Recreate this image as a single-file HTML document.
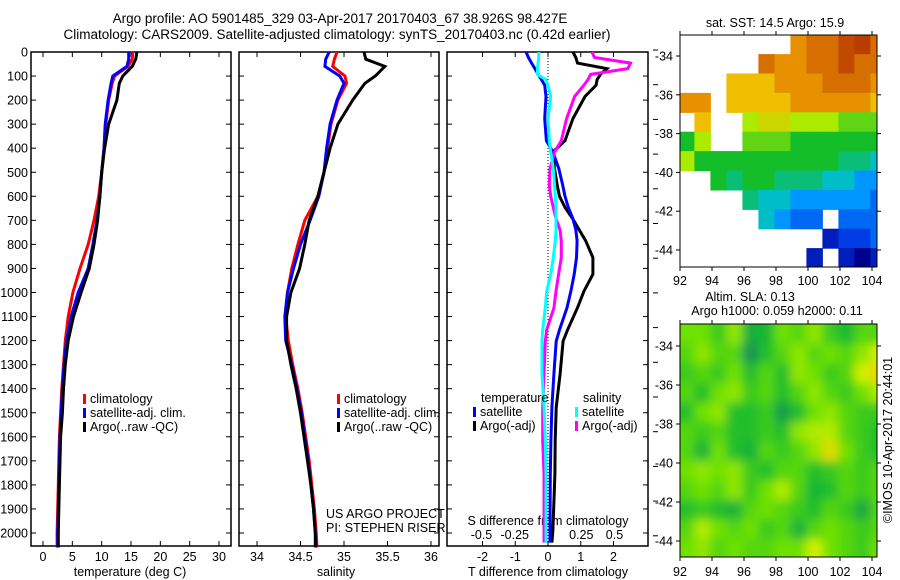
<!DOCTYPE html>
<html><head><meta charset="utf-8"><style>
html,body{margin:0;padding:0;background:#fff;}
svg{display:block;font-family:"Liberation Sans",sans-serif;}
text{fill:#000;}
</style></head><body>
<svg id="fig" width="900" height="580" viewBox="0 0 900 580" xmlns="http://www.w3.org/2000/svg">
<defs>
<clipPath id="clipSla"><rect x="680" y="324" width="197" height="233"/></clipPath>
<clipPath id="clipSst"><rect x="680" y="35" width="197" height="232"/></clipPath>
<filter id="blur" x="-5%" y="-5%" width="110%" height="110%"><feGaussianBlur stdDeviation="5"/></filter>
</defs>
<text x="340" y="23" text-anchor="middle" font-size="13.5">Argo profile: AO 5901485_329 03-Apr-2017 20170403_67 38.926S 98.427E</text>
<text x="337" y="39" text-anchor="middle" font-size="13.5">Climatology: CARS2009. Satellite-adjusted climatology: synTS_20170403.nc (0.42d earlier)</text>
<g id="layer"></g>
</svg>
<script>
// ---------- Data ----------
const depths = [0,30,60,100,130,200,300,400,500,600,700,800,900,1000,1100,1200,1300,1400,1500,1600,1700,1800,1900,2000,2060];
const tempClim = [15.3,15.2,14.5,12.2,11.8,11.2,10.7,10.4,10,9.5,8.7,7.7,6.3,5.1,4.3,3.8,3.5,3.2,3.0,2.8,2.7,2.6,2.5,2.4,2.4];
const tempSat  = [14.6,14.6,14.3,11.9,11.6,11.1,10.6,10.4,10,9.7,9.2,8.5,7.7,6.0,4.8,4.0,3.6,3.3,3.1,2.9,2.8,2.7,2.6,2.5,2.5];
const tempArgo = [16.0,15.8,15.2,13.6,13.0,12.6,11.2,10.5,10,9.7,9.3,8.7,7.9,6.5,5.2,4.3,3.8,3.5,3.3,3.0,2.9,2.8,2.7,2.6,2.6];
const salClim = [34.92,34.89,34.87,35.01,35.03,34.93,34.85,34.81,34.77,34.70,34.55,34.47,34.40,34.35,34.33,34.36,34.41,34.47,34.52,34.56,34.60,34.63,34.66,34.68,34.69];
const salSat  = [34.83,34.79,34.78,34.95,35.00,34.92,34.84,34.80,34.77,34.71,34.61,34.50,34.42,34.35,34.32,34.33,34.40,34.46,34.51,34.55,34.59,34.62,34.65,34.67,34.68];
const salArgo = [35.23,35.25,35.47,35.36,35.24,35.10,34.93,34.84,34.77,34.70,34.60,34.55,34.49,34.39,34.34,34.34,34.39,34.45,34.50,34.54,34.58,34.62,34.65,34.67,34.67];
const diffDepths = [0,23,46,69,93,115,138,185,277,369,416,485,554,600,646,693,739,785,855,924,994,1063,1155,1202,1339,1478,1616,1755,1987,2040];
const dTempSat  = [-0.67,-0.6,-0.5,-0.4,-0.3,-0.2,-0.1,-0.06,-0.1,-0.05,0.15,0.33,0.45,0.52,0.62,0.76,0.85,0.89,0.87,0.8,0.7,0.58,0.35,0.25,0.18,0.12,0.09,0.07,0.06,0.06];
const dTempArgo = [0.76,0.85,0.9,1.8,1.6,1.5,1.47,1.13,0.76,0.52,0.15,0.2,0.28,0.35,0.52,0.75,0.95,1.15,1.37,1.37,1.1,0.9,0.6,0.46,0.37,0.25,0.22,0.21,0.15,0.12];
const dSalSat   = [-0.07,-0.07,-0.075,-0.08,-0.08,-0.015,0.0,0.02,0.0,0.01,0.02,0.04,0.05,0.055,0.06,0.06,0.06,0.055,0.04,0.02,-0.01,-0.02,-0.04,-0.045,-0.045,-0.03,-0.02,-0.015,-0.015,-0.015];
const dSalArgo  = [0.33,0.35,0.62,0.6,0.32,0.3,0.27,0.2,0.14,0.1,0.05,0.015,0.01,0.02,0.04,0.06,0.09,0.1,0.1,0.08,0.06,0.045,-0.01,-0.02,-0.03,-0.04,-0.04,-0.03,-0.03,-0.03];
const depthTicks = [0,100,200,300,400,500,600,700,800,900,1000,1100,1200,1300,1400,1500,1600,1700,1800,1900,2000];
const tempTicks = [0,5,10,15,20,25,30];
const salTicks = [34,34.5,35,35.5,36];
const dTempTicks = [-2,-1,0,1,2];
const dSalTicks = [-0.5,-0.25,0,0.25,0.5];
const dSalTickLabels = ["-0.5","-0.25","0","0.25","0.5"];
const mapLons = [92,93,94,95,96,97,98,99,100,101,102,103,104];
const mapLats = [-33,-34,-35,-36,-37,-38,-39,-40,-41,-42,-43,-44];
const lonTicks = [92,94,96,98,100,102,104];
const latTicks = [-34,-36,-38,-40,-42,-44];
const N = null;
const sstGrid = [
 [N,N,N,N,N,N,N,16,16.5,16.5,17,17.2,16.5],
 [N,N,N,N,N,16.5,16,16,16.5,16.5,17,16.5,16.5],
 [N,N,N,15.5,15.5,15.5,16,16,16,16.5,16.5,16.5,16],
 [16,16,N,15.5,15.5,15.5,15.5,16,16,16,16,16,15.5],
 [N,15.5,N,N,14.5,15,15,14.5,14.5,14.5,14,14,14],
 [13.5,14.5,N,N,14,14,14,13.5,13.5,13.5,13.5,13.5,13.5],
 [14.5,13.5,13.5,13.5,13.5,13.5,13.5,13.5,13.5,13.5,13,13,12.5],
 [N,N,13.5,13,13.5,13.5,13,13,13,12.5,12.5,12,12],
 [N,N,N,N,13,12.5,12.5,12,12,12,12,12,11.5],
 [N,N,N,N,N,12.5,12,11.5,11.5,N,11.5,11.5,11.5],
 [N,N,N,N,N,N,N,N,N,10.5,11,11,11.5],
 [N,N,N,N,N,N,N,N,10.5,N,10.5,10,10.5]];
const slaGrid = [
 [.12,.12,.08,.14,.03,.05,.12,.10,.14,.08,.05,.10,.10],
 [.10,.14,.10,.10,-.02,.06,.10,.14,.10,.12,.10,.14,.18],
 [.08,.10,.08,.12,.06,.10,.06,.14,.12,.08,.10,.18,.22],
 [.10,.06,.12,.14,.08,.10,.06,.10,.14,.10,.08,.12,.16],
 [.06,.12,.14,.06,.06,.08,.00,.06,.12,.14,.10,.08,.08],
 [.10,.08,.10,.06,.06,.08,.06,.14,.16,.16,.10,.08,.06],
 [.10,.04,.12,.06,.04,.10,.08,.10,.14,.22,.12,.08,.06],
 [.12,.14,.12,.14,.08,.06,.10,.10,.06,.08,.10,.08,.10],
 [.10,.12,.10,.14,.08,.12,.16,.10,.04,.06,.10,.08,.10],
 [.06,.08,.06,.04,.10,.12,.10,.08,.06,.10,.08,.02,.10],
 [.10,.16,.12,.10,.12,.08,.10,.04,.10,.12,.10,.08,.10],
 [.12,.14,.10,.12,.10,.10,.12,.12,.18,.12,.10,.08,.12]];

// ---------- Scales ----------
const yD = d => 52 + d*0.2405;
const xT = t => 43 + t*5.867;
const xS = s => 257 + (s-34)*87;
const xdT = t => 548 + t*32.75;
const xdS = s => 548 + s*133;
const xLon = l => 680 + (l-92)*16;
const yLat1 = l => 56 + (-34-l)*19.4;
const yLat2 = l => 346 + (-34-l)*19.5;

const NS='http://www.w3.org/2000/svg';
const layer=document.getElementById('layer');
function mk(tag,attrs,parent){const e=document.createElementNS(NS,tag);for(const k in attrs)e.setAttribute(k,attrs[k]);(parent||layer).appendChild(e);return e;}
function txt(x,y,s,size,anchor,parent){const e=mk('text',{x:x,y:y,'font-size':size,'text-anchor':anchor||'middle'},parent);e.textContent=s;return e;}

function panelBox(x0,x1,name){
  const g=mk('g',{});
  
  
  mk('rect',{x:x0,y:52,width:x1-x0,height:494,fill:'none',stroke:'#000','stroke-width':1.5},g);
  return g;
}
function depthAxis(g,x0,x1,labels){
  depthTicks.forEach(d=>{
    const y=yD(d);
    mk('line',{x1:x0,y1:y,x2:x0+5,y2:y,stroke:'#000'},g);
    mk('line',{x1:x1-5,y1:y,x2:x1,y2:y,stroke:'#000'},g);
    if(labels){const t=txt(28,y+4.5,String(d),12.5,'end',g);
      
      }
  });
}
function xAxis(g,ticks,fx,labels,ly){
  ticks.forEach((v,i)=>{
    const x=fx(v);
    mk('line',{x1:x,y1:546,x2:x,y2:541,stroke:'#000'},g);
    mk('line',{x1:x,y1:52,x2:x,y2:57,stroke:'#000'},g);
    const t=txt(x,ly,labels?labels[i]:String(v),12.5,'middle',g);
    
    
  });
}
function profile(g,xs,ys,fx,color,name){
  const pts=xs.map((v,i)=>fx(v).toFixed(1)+','+yD(ys[i]).toFixed(1)).join(' ');
  const p=mk('polyline',{points:pts,fill:'none',stroke:color,'stroke-width':3,'stroke-linejoin':'miter'},g);
  
  
}
function legendEntry(g,x,y,color,label){
  const e=mk('g',{},g);
  
  
  mk('rect',{x:x,y:y-9,width:3,height:10,fill:color},e);
  txt(x+7,y,label,12.5,'start',e);
}

// Panel 1: temperature
const g1=panelBox(31,231,'temperature-panel');
depthAxis(g1,31,231,true);
xAxis(g1,tempTicks,xT,null,561);
const l1=txt(130,576,'temperature (deg C)',12.5,'middle',g1);


profile(g1,tempClim,depths,xT,'#ff0000','temp-climatology-line');
profile(g1,tempSat,depths,xT,'#0000ff','temp-satellite-line');
profile(g1,tempArgo,depths,xT,'#000000','temp-argo-line');
legendEntry(g1,83,403,'#ff0000','climatology');
legendEntry(g1,83,417,'#0000ff','satellite-adj. clim.');
legendEntry(g1,83,431,'#000000','Argo(..raw -QC)');

// Panel 2: salinity
const g2=panelBox(239,439,'salinity-panel');
depthAxis(g2,239,439,false);
xAxis(g2,salTicks,xS,null,561);
const l2=txt(336,576,'salinity',12.5,'middle',g2);


profile(g2,salClim,depths,xS,'#ff0000','sal-climatology-line');
profile(g2,salSat,depths,xS,'#0000ff','sal-satellite-line');
profile(g2,salArgo,depths,xS,'#000000','sal-argo-line');
legendEntry(g2,337,403,'#ff0000','climatology');
legendEntry(g2,337,417,'#0000ff','satellite-adj. clim.');
legendEntry(g2,337,431,'#000000','Argo(..raw -QC)');
const c1=txt(326,518,'US ARGO PROJECT',12.5,'start',g2);


const c2=txt(326,532,'PI: STEPHEN RISER',12.5,'start',g2);



// Panel 3: differences
const g3=panelBox(447,648,'difference-panel');
depthAxis(g3,447,648,false);
mk('line',{x1:548,y1:52,x2:548,y2:546,stroke:'#000','stroke-dasharray':'1,2'},g3);
xAxis(g3,dTempTicks,xdT,null,561);
const l3=txt(548,576,'T difference from climatology',12.5,'middle',g3);


dSalTicks.forEach((v,i)=>{const t=txt(xdS(v),539,dSalTickLabels[i],12.5,'middle',g3);
  
  });
const l4=txt(548,525,'S difference from climatology',12.5,'middle',g3);


function dprof(vals,fx,color,name){
  const pts=vals.map((v,i)=>fx(v).toFixed(1)+','+yD(diffDepths[i]).toFixed(1)).join(' ');
  const p=mk('polyline',{points:pts,fill:'none',stroke:color,'stroke-width':3},g3);
  
  
}
dprof(dTempArgo,xdT,'#000000','t-diff-argo-line');
dprof(dTempSat,xdT,'#0000ff','t-diff-satellite-line');
dprof(dSalArgo,xdS,'#ff00ff','s-diff-argo-line');
dprof(dSalSat,xdS,'#00ffff','s-diff-satellite-line');
txt(481,402,'temperature',12.5,'start',g3);
txt(583,402,'salinity',12.5,'start',g3);
legendEntry(g3,473,416,'#0000ff','satellite');
legendEntry(g3,473,430,'#000000','Argo(-adj)');
legendEntry(g3,575,416,'#00ffff','satellite');
legendEntry(g3,575,430,'#ff00ff','Argo(-adj)');
for(let i=0;i<15;i++){const y=50+i*34.7; if(y>547)break; mk('line',{x1:653,y1:y,x2:658,y2:y,stroke:'#000'},g3);}

// Colormaps
function interp(stops,v){
  if(v<=stops[0][0])return 'rgb('+stops[0][1]+')';
  for(let i=1;i<stops.length;i++){if(v<=stops[i][0]){const a=stops[i-1],b=stops[i],f=(v-a[0])/(b[0]-a[0]);
    return 'rgb('+a[1].map((c,k)=>Math.round(c+(b[1][k]-c)*f)).join(',')+')';}}
  return 'rgb('+stops[stops.length-1][1]+')';}
const sstStops=[[10,[0,0,140]],[11,[0,60,230]],[12,[0,150,255]],[12.5,[0,190,200]],[13.5,[20,190,40]],[14.5,[170,235,0]],[15.5,[240,190,0]],[16,[232,145,0]],[16.5,[215,110,0]],[17.2,[185,60,0]]];
const slaStops=[[-0.05,[30,130,100]],[0.05,[20,185,50]],[0.12,[110,225,0]],[0.18,[210,240,0]],[0.25,[240,200,0]]];

function mapAxes(g,y0,y1,yLat,ly){
  mk('rect',{x:680,y:y0,width:197,height:y1-y0,fill:'none',stroke:'#000'},g);
  lonTicks.forEach(l=>{const x=xLon(l);
    mk('line',{x1:x,y1:y1,x2:x,y2:y1+4,stroke:'#000'},g);
    mk('line',{x1:x,y1:y0,x2:x,y2:y0-4,stroke:'#000'},g);
    const t=txt(x,ly,String(l),12.5,'middle',g);
    
    });
  latTicks.forEach(l=>{const y=yLat(l);
    mk('line',{x1:676,y1:y,x2:680,y2:y,stroke:'#000'},g);
    mk('line',{x1:877,y1:y,x2:881,y2:y,stroke:'#000'},g);
    const t=txt(673,y+4.5,String(l),12.5,'end',g);
    
    });
}

// SST map
const gm1=mk('g',{});


const sstCells=mk('g',{'clip-path':'url(#clipSst)'},gm1);
sstGrid.forEach((row,r)=>row.forEach((v,c)=>{
  if(v===null)return;
  const x=xLon(mapLons[c]-0.1), y=yLat1(mapLats[r]+0.1);
  const cell=mk('rect',{x:x.toFixed(1),y:y.toFixed(1),width:16.5,height:20,fill:interp(sstStops,v)},sstCells);
  
  
}));
mapAxes(gm1,35,267,yLat1,285);
const ts=txt(775,27,'sat. SST: 14.5 Argo: 15.9',12.5,'middle',gm1);



// SLA map
const gm2=mk('g',{});


const slaClip=mk('g',{'clip-path':'url(#clipSla)'},gm2);
mk('rect',{x:680,y:324,width:197,height:233,fill:interp(slaStops,0.1)},slaClip);
const slaCells=mk('g',{filter:'url(#blur)'},slaClip);
slaGrid.forEach((row,r)=>row.forEach((v,c)=>{
  let x=xLon(mapLons[c]-0.1), y=yLat2(mapLats[r]+0.1), w=16.5, h=20;
  if(c===0){x-=12;w+=12;} if(c===12){w+=12;} if(r===0){y-=12;h+=12;} if(r===11){h+=12;}
  const cell=mk('rect',{x:x.toFixed(1),y:y.toFixed(1),width:w,height:h,fill:interp(slaStops,v)},slaCells);
  
  
}));
mapAxes(gm2,324,557,yLat2,576);
const t2a=txt(750,301,'Altim. SLA: 0.13',12.5,'middle',gm2);


const t2b=txt(777,315,'Argo h1000: 0.059 h2000: 0.11',12.5,'middle',gm2);


const cr=txt(0,0,'©IMOS 10-Apr-2017 20:44:01',12.5,'middle',gm2);
cr.setAttribute('transform','translate(892,440) rotate(-90)');


</script>
</body></html>
